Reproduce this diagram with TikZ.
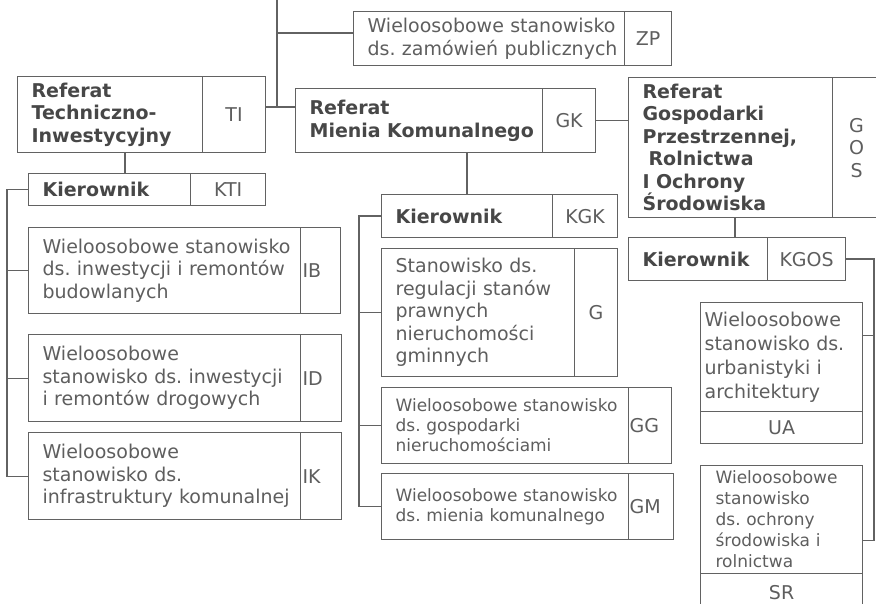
\documentclass[tikz,border=0pt]{standalone}
\usepackage{fontspec}
\setmainfont{DejaVu Sans}
\frenchspacing
\definecolor{linegray}{HTML}{626262}
\definecolor{textgray}{HTML}{5E5E5E}
\definecolor{headgray}{HTML}{474747}
\tikzset{
  link/.style={draw=linegray, line width=1.2pt},
  cell/.style 2 args={draw=linegray, line width=1.2pt, anchor=north west,
    inner xsep=0pt, inner ysep=0pt, minimum width=#1pt, minimum height=#2pt,
    text width=#1pt, align=left, text=textgray,
    font=\fontsize{19}{22.5}\selectfont, execute at begin node={\leftskip=14pt}},
  codecell/.style 2 args={draw=linegray, line width=1.2pt, anchor=north west,
    inner sep=0pt, minimum width=#1pt, minimum height=#2pt, align=center,
    text=textgray, font=\fontsize{19}{22.5}\selectfont},
  leftpad/.style={execute at begin node={\leftskip=#1pt}},
  headtext/.style={font=\bfseries\fontsize{19}{22.5}\selectfont, text=headgray},
  smalltext/.style={font=\fontsize{17}{20}\selectfont}
}
\begin{document}
\begin{tikzpicture}[x=1pt,y=-1pt]
\useasboundingbox (0,0) rectangle (876,604);

% top row
\node[cell={271}{54}] (zp) at (353,11) {Wieloosobowe stanowisko\\ds. zamówień publicznych};
\node[codecell={47}{54}] (zpcode) at (624,11) {ZP};
\node[cell={185}{76}, headtext] (ti) at (17,76) {Referat\\Techniczno-\\Inwestycyjny};
\node[codecell={63}{76}] (ticode) at (202,76) {TI};
\node[cell={247}{64}, headtext] (gk) at (295,88) {Referat\\Mienia Komunalnego};
\node[codecell={53}{64}] (gkcode) at (542,88) {GK};
\node[cell={204}{140}, headtext] (gos) at (628,77) {Referat\\Gospodarki\\Przestrzennej,\\\hspace*{6pt}Rolnictwa\\I Ochrony\\Środowiska};
\node[codecell={48}{140}] (goscode) at (832,77) {G\\O\\S};

% left column
\node[cell={162}{32}, headtext] (kti) at (28,173) {Kierownik};
\node[codecell={75}{32}] (kticode) at (190,173) {KTI};
\node[cell={272}{86}] (ib) at (28,227) {Wieloosobowe stanowisko\\ds. inwestycji i remontów\\budowlanych};
\node[cell={40}{86}, leftpad=2] (ibcode) at (300,227) {IB};
\node[cell={272}{87}] (id) at (28,334) {Wieloosobowe\\stanowisko ds. inwestycji\\i remontów drogowych};
\node[cell={41}{87}, leftpad=2] (idcode) at (300,334) {ID};
\node[cell={272}{87}] (ik) at (28,432) {Wieloosobowe\\stanowisko ds.\\infrastruktury komunalnej};
\node[cell={41}{87}, leftpad=2] (ikcode) at (300,432) {IK};

% middle column
\node[cell={171}{43}, headtext] (kgk) at (381,194) {Kierownik};
\node[codecell={65}{43}] (kgkcode) at (552,194) {KGK};
\node[cell={193}{128}] (g) at (381,248) {Stanowisko ds.\\regulacji stanów\\prawnych\\nieruchomości\\gminnych};
\node[codecell={43}{128}] (gcode) at (574,248) {G};
\node[cell={247}{76}, smalltext] (gg) at (381,387) {Wieloosobowe stanowisko\\ds. gospodarki\\nieruchomościami};
\node[cell={43}{76}, leftpad=1] (ggcode) at (628,387) {GG};
\node[cell={247}{66}, smalltext] (gm) at (381,473) {Wieloosobowe stanowisko\\ds. mienia komunalnego};
\node[cell={45}{66}, leftpad=1] (gmcode) at (628,473) {GM};

% right column
\node[cell={139}{43}, headtext] (kgos) at (628,237) {Kierownik};
\node[codecell={78}{43}] (kgoscode) at (767,237) {KGOS};
\node[cell={162}{109}, leftpad=4, font=\fontsize{19}{24}\selectfont] (ua) at (700,302) {Wieloosobowe\\stanowisko ds.\\urbanistyki i\\architektury};
\node[codecell={162}{32}] (uacode) at (700,411) {UA};
\node[cell={162}{108}, leftpad=15, font=\fontsize{17}{21}\selectfont] (sr) at (700,465) {Wieloosobowe\\stanowisko\\ds. ochrony\\środowiska i\\rolnictwa};
\node[codecell={162}{37}] (srcode) at (700,573) {SR};

% connectors
\coordinate (top) at (277,0);
\coordinate (hub) at (277,107);
\coordinate (zpjoin) at (277,33);
\draw[link] (top) -- (hub);
\draw[link] (zpjoin) -- (zpjoin -| zp.west);
\draw[link] (hub -| ticode.east) -- (hub -| gk.west);
\draw[link] (gkcode.east) -- (gkcode.east -| gos.west);

\coordinate (tidrop) at (125,0);
\coordinate (kgkdrop) at (467,0);
\coordinate (gosdrop) at (735,0);
\draw[link] (tidrop |- ti.south) -- (tidrop |- kti.north);
\draw[link] (kgkdrop |- gk.south) -- (kgkdrop |- kgk.north);
\draw[link] (gosdrop |- gos.south) -- (gosdrop |- kgos.north);

\coordinate (lbar) at (7,0);
\draw[link] (kti.west) -- (kti.west -| lbar) -- (ik.west -| lbar) -- (ik.west);
\foreach \n in {ib,id}
  \draw[link] (\n.west) -- (\n.west -| lbar);

\coordinate (mbar) at (359,0);
\draw[link] (kgk.west) -- (kgk.west -| mbar) -- (gm.west -| mbar) -- (gm.west);
\foreach \n in {g,gg}
  \draw[link] (\n.west) -- (\n.west -| mbar);

\coordinate (rbar) at (874,0);
\coordinate (uatap) at ([yshift=22pt]ua.east);
\coordinate (srtap) at ([yshift=-21pt]sr.east);
\draw[link] (kgoscode.east) -- (kgoscode.east -| rbar) -- (srtap -| rbar) -- (srtap);
\draw[link] (uatap) -- (uatap -| rbar);
\end{tikzpicture}
\end{document}
